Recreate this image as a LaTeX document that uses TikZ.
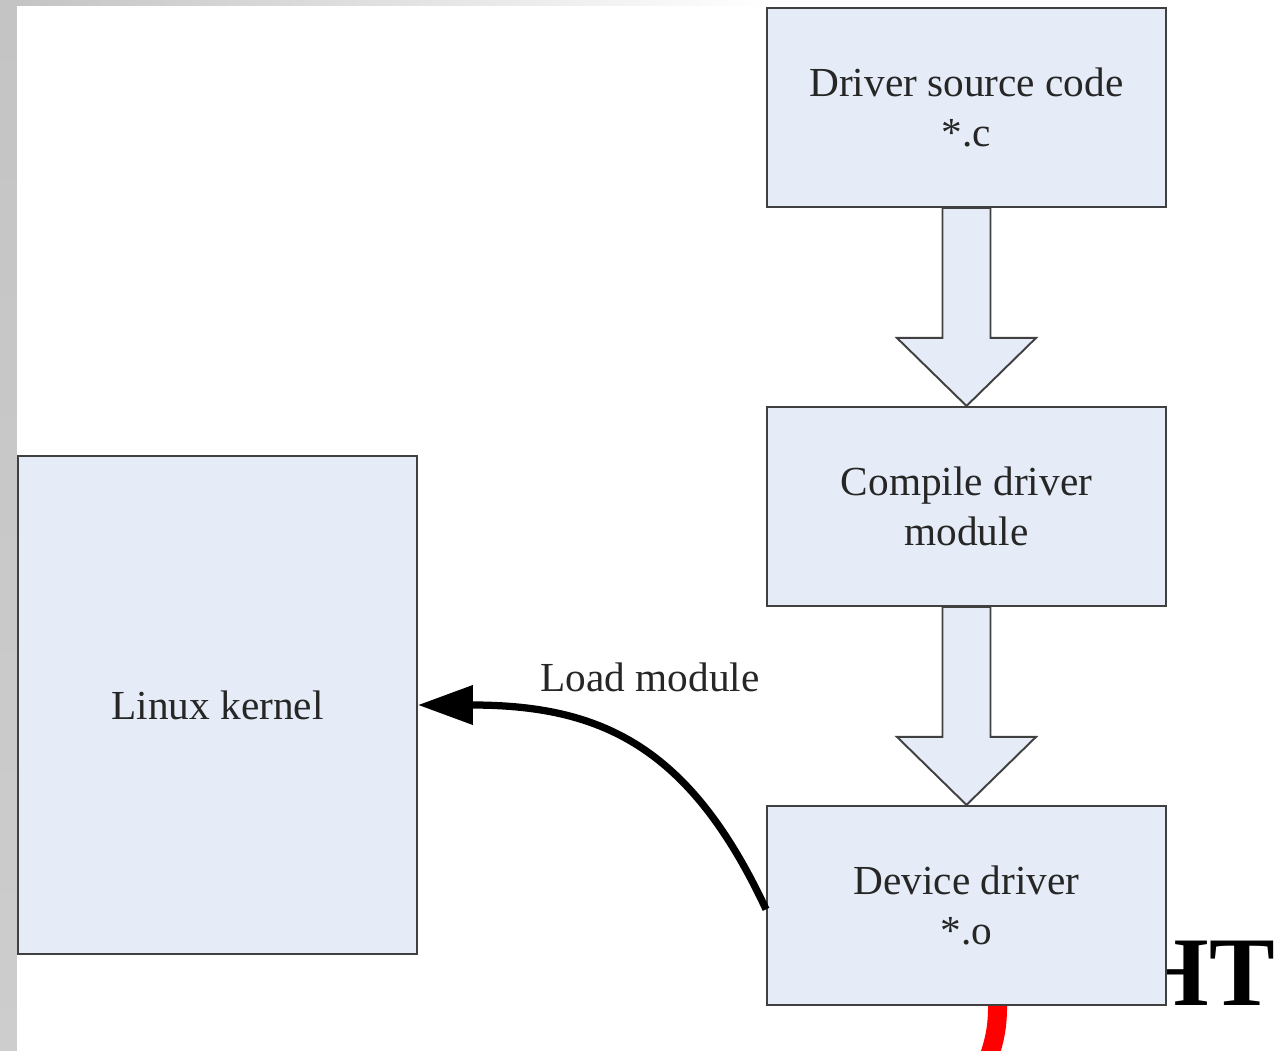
\documentclass[tikz,border=0pt]{standalone}
\usepackage{fontspec}
\setmainfont{Liberation Serif}
\usepackage{tikz}
\usetikzlibrary{arrows.meta, positioning, backgrounds}

\definecolor{boxfill}{HTML}{E6ECF7}
\definecolor{boxline}{HTML}{404040}
\definecolor{stripgray}{HTML}{C4C4C4}

\begin{document}
\begin{tikzpicture}[
    every node/.style={font=\fontsize{23.5}{28.5}\selectfont, text=black!85},
    block/.style={rectangle, draw=boxline, fill=boxfill, line width=1.1pt,
                  minimum width=7.98cm, minimum height=3.98cm, align=center, inner sep=0pt},
    kernel/.style={block, minimum height=9.96cm},
    bigarrow/.style={draw=boxline, fill=boxfill, line width=1.1pt, line join=miter},
    loadarrow/.style={-{Triangle[length=11mm, width=7.6mm]}, line width=1.45mm, draw=black},
    label_s/.style={align=center},
]
\useasboundingbox (0,0) rectangle (25.6,21);

% Column: build steps
\node[block] (src) at (19.33,18.85) {Driver source code\\*.c};
\node[block, below=3.96cm of src] (comp) {Compile driver\\module};
\node[block, below=3.96cm of comp] (dev) {Device driver\\*.o};

% Left: kernel
\node[kernel] (kernel) at (4.35,6.9) {Linux kernel};

% Block arrows
\draw[bigarrow] ([xshift=-4.8mm]src.south) -- ++(0,-2.6) -- ++(-0.91,0) -- (comp.north)
    -- ++(1.39,1.36) -- ++(-0.91,0) -- ([xshift=4.8mm]src.south) -- cycle;
\draw[bigarrow] ([xshift=-4.8mm]comp.south) -- ++(0,-2.6) -- ++(-0.91,0) -- (dev.north)
    -- ++(1.39,1.36) -- ++(-0.91,0) -- ([xshift=4.8mm]comp.south) -- cycle;

% Load module
\draw[loadarrow] ([yshift=-0.08cm]dev.west) to[out=115, in=0, looseness=1.15] (kernel.east);
\node[label_s] (load) at (13.0,7.46) {Load module};

% Slide leftovers
\begin{scope}[on background layer]
  \shade[top color=stripgray, bottom color=stripgray!85] (0,0) rectangle (0.34,21);
  \shade[left color=stripgray, right color=white] (0.34,20.88) rectangle (15.4,21);
  \node[anchor=base east, font=\fontsize{56}{60}\selectfont\bfseries, text=black, inner sep=0pt]
    (ht) at (25.5,0.9) {HT};
  \draw[red, line width=3.8mm] (19.95,1.0) to[bend left=10] (19.76,-0.2);
\end{scope}

\end{tikzpicture}
\end{document}
